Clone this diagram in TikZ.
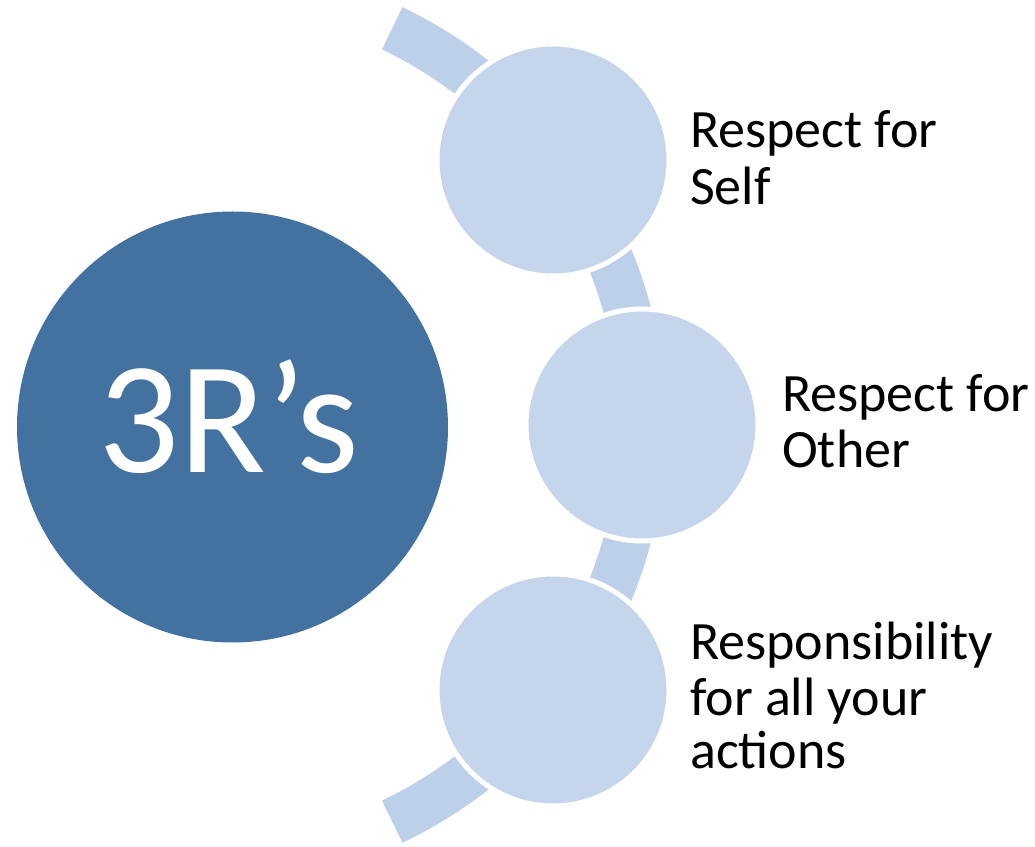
\documentclass[tikz,border=0pt]{standalone}
\usepackage{fontspec}
\setmainfont{Carlito}
\usetikzlibrary{calc}
\definecolor{darkblue}{RGB}{68,114,160}
\definecolor{lightcirc}{RGB}{196,213,236}
\definecolor{bandblue}{RGB}{189,208,234}
\begin{document}
\begin{tikzpicture}[x=1pt,y=1pt,
  bigcirc/.style={circle, inner sep=0pt, minimum size=431pt, fill=darkblue},
  smallcirc/.style={circle, inner sep=0pt, minimum size=232pt, fill=lightcirc, draw=white, line width=5pt},
  lbl/.style={anchor=base west, inner sep=0pt, font=\fontsize{54}{56}\selectfont, text=black}]
\useasboundingbox (0,0) rectangle (1035,846);
\coordinate (arcc) at (203,421);
% band
\draw[bandblue, line width=47pt] ($(arcc)+(-64.5:439.5)$) arc[start angle=-64.5, end angle=64.5, radius=439.5];
% big circle
\node[bigcirc] (big) at (232.5,419) {};
\node[anchor=base, inner sep=0pt, text=white, font=\fontsize{160}{160}\selectfont] (title) at (229,373) {3R’s};
% small circles
\node[smallcirc] (c1) at (553,686) {};
\node[smallcirc] (c2) at (642,421) {};
\node[smallcirc] (c3) at (553,156) {};
% labels
\node[lbl] (l1a) at (690,698) {Respect for};
\node[lbl] (l1b) at (690,641) {Self};
\node[lbl] (l2a) at (782,434) {Respect for};
\node[lbl] (l2b) at (782,378) {Other};
\node[lbl] (l3a) at (690,186) {Responsibility};
\node[lbl] (l3b) at (690,131) {for all your};
\node[lbl] (l3c) at (690,78) {actions};
\end{tikzpicture}
\end{document}
